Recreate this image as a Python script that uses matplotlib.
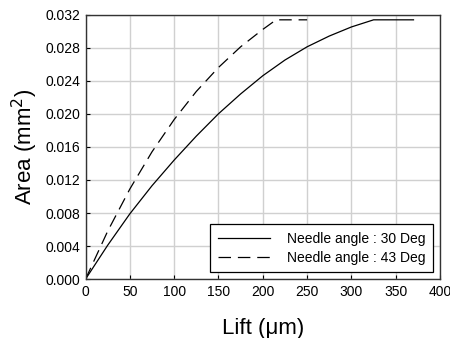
import matplotlib
matplotlib.use("Agg")
import matplotlib.pyplot as plt

plt.rcParams['font.family'] = ['Liberation Sans', 'DejaVu Sans']

# Needle angle 30 deg (solid)
lift_30 = [0, 25, 50, 75, 100, 125, 150, 175, 200, 225, 250, 275, 300, 325, 370]
area_30 = [0, 0.0041, 0.0079, 0.0113, 0.0144, 0.0173, 0.0200, 0.0224, 0.0246,
           0.0265, 0.0281, 0.0294, 0.0305, 0.03136, 0.03136]

# Needle angle 43 deg (dashed)
lift_43 = [0, 25, 50, 75, 100, 125, 150, 175, 200, 215, 250]
area_43 = [0, 0.0058, 0.0109, 0.0154, 0.0193, 0.0227, 0.0256, 0.0281, 0.0302,
           0.03136, 0.03136]

x_ticks = [0, 50, 100, 150, 200, 250, 300, 350, 400]
y_ticks = [0.000, 0.004, 0.008, 0.012, 0.016, 0.020, 0.024, 0.028, 0.032]

fig = plt.figure(figsize=(4.5, 3.38), dpi=100)
ax = fig.add_axes([0.19, 0.174, 0.788, 0.783])

ax.plot(lift_30, area_30, color='black', lw=0.9, label='Needle angle : 30 Deg')
ax.plot(lift_43, area_43, color='black', lw=0.9, dashes=(10, 5.5),
        label='Needle angle : 43 Deg')

ax.set_xlim(0, 400)
ax.set_ylim(0, 0.032)
ax.set_xticks(x_ticks)
ax.set_yticks(y_ticks)
ax.set_yticklabels(['%.3f' % v for v in y_ticks])
ax.tick_params(direction='in', length=3, width=0.8, labelsize=10, pad=4)

# Add a grid
ax.grid(color='#d0d0d0', lw=1.0)
ax.set_axisbelow(True)
for s in ax.spines.values():
    s.set_linewidth(1.0)
    s.set_color('#333333')

ax.set_xlabel('Lift (\u03bcm)', fontsize=16, labelpad=14)
ax.set_ylabel('Area (mm$^2$)', fontsize=16, labelpad=4)

leg = ax.legend(loc='lower right', fontsize=10, fancybox=False, framealpha=1,
                edgecolor='black', handlelength=3.8, borderaxespad=0.5,
                borderpad=0.55, labelspacing=0.35, handletextpad=1.2)
leg.get_frame().set_linewidth(0.9)

fig.savefig('out.png', dpi=100)
